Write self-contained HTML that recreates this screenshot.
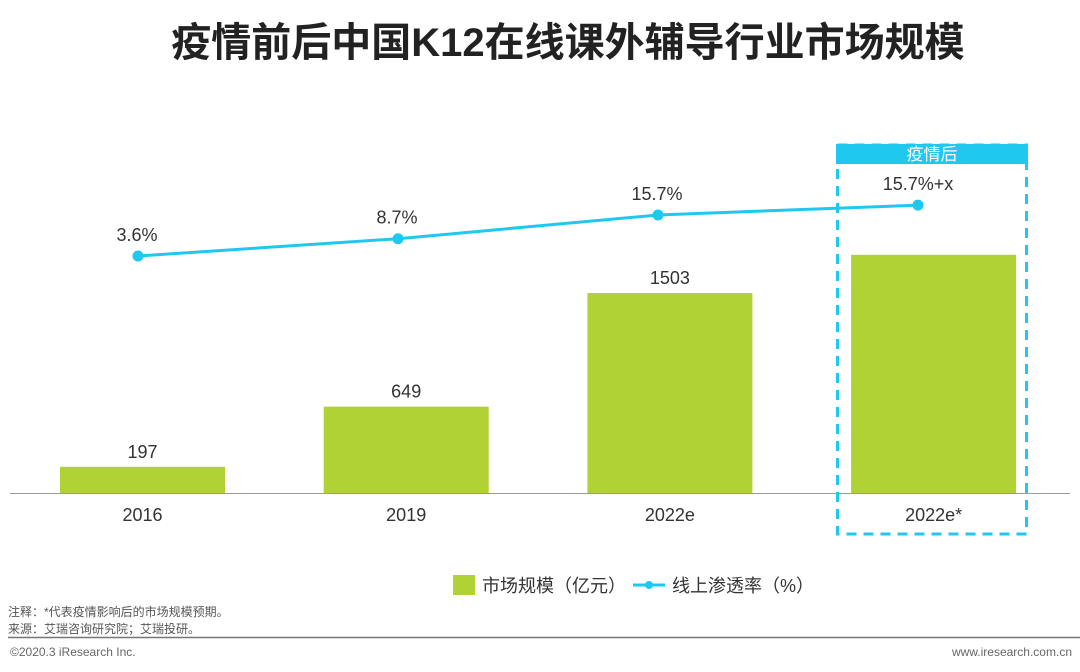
<!DOCTYPE html>
<html><head><meta charset="utf-8">
<style>
body{margin:0;background:#fff;width:1080px;height:672px;overflow:hidden;font-family:"Liberation Sans","Noto Sans CJK SC",sans-serif;}
svg{display:block}
</style></head>
<body>
<svg id="chart" width="1080" height="672" font-family="Liberation Sans, Noto Sans CJK SC, sans-serif">
<text x="568" y="56" text-anchor="middle" font-size="40" font-weight="bold" fill="#222">疫情前后中国K12在线课外辅导行业市场规模</text>
<rect x="836" y="144" width="192" height="20" fill="#1fc8ef"/>
<text x="932" y="160" text-anchor="middle" font-size="17" fill="#fff">疫情后</text>
<rect x="837.5" y="145" width="189" height="389" fill="none" stroke="#1fc8ef" stroke-width="3" stroke-dasharray="10,7"/>
<line x1="10" y1="493.5" x2="1070" y2="493.5" stroke="#999" stroke-width="1"/>
<g id="bars"></g>
<g id="line"></g>
<g id="labels"></g>
<rect x="453" y="575" width="22" height="20" fill="#b0d235"/>
<text x="482" y="592" font-size="18" fill="#333">市场规模（亿元）</text>
<line x1="633" y1="585" x2="665" y2="585" stroke="#1fc8ef" stroke-width="3"/>
<circle cx="649" cy="585" r="4" fill="#1fc8ef"/>
<text x="672" y="592" font-size="18" fill="#333">线上渗透率（%）</text>
<text x="8" y="616" font-size="12" fill="#555">注释：*代表疫情影响后的市场规模预期。</text>
<text x="8" y="633" font-size="12" fill="#555">来源：艾瑞咨询研究院；艾瑞投研。</text>
<line x1="8" y1="637.5" x2="1080" y2="637.5" stroke="#777" stroke-width="1.5"/>
<text x="10" y="656" font-size="12" fill="#666">©2020.3 iResearch Inc.</text>
<text x="1072" y="656" text-anchor="end" font-size="12" fill="#666">www.iresearch.com.cn</text>
</svg>
<script>
const categories=["2016","2019","2022e","2022e*"];
const marketSize=[197,649,1503,1790];
const sizeLabels=["197","649","1503",""];
const penetration=[3.6,8.7,15.7,18.6];
const penLabels=["3.6%","8.7%","15.7%","15.7%+x"];

const NS="http://www.w3.org/2000/svg";
const baseY=493, pxPerUnit=200/1503;
function xBar(i){return 60+i*263.7;}
function yBar(v){return baseY-v*pxPerUnit;}
function xPt(i){return 138+i*260;}
function yPt(v){return 256-(v-3.6)*3.39;}
function mk(tag,attrs,parent){const e=document.createElementNS(NS,tag);for(const k in attrs)e.setAttribute(k,attrs[k]);parent.appendChild(e);return e;}
const gb=document.getElementById('bars'),gl=document.getElementById('line'),gt=document.getElementById('labels');
categories.forEach((c,i)=>{
  const y=yBar(marketSize[i]);
  const r=mk('rect',{x:xBar(i),y:y,width:165,height:baseY-y,fill:'#b0d235'},gb);
  
  
  if(sizeLabels[i]){
    const t=mk('text',{x:xBar(i)+82.5,y:y-9,'text-anchor':'middle','font-size':18,fill:'#333'},gt);
    t.textContent=sizeLabels[i];
    
    
  }
  const xl=mk('text',{x:xBar(i)+82.5,y:521,'text-anchor':'middle','font-size':18,fill:'#333'},gt);
  xl.textContent=c;
  
  
});
const pts=penetration.map((v,i)=>xPt(i)+','+yPt(v)).join(' ');
const pl=mk('polyline',{points:pts,fill:'none',stroke:'#1fc8ef','stroke-width':3},gl);


penetration.forEach((v,i)=>{
  const c=mk('circle',{cx:xPt(i),cy:yPt(v),r:5.5,fill:'#1fc8ef'},gl);
  
  
  const t=mk('text',{x:xPt(i)+(i==3?0:-1),y:yPt(v)-15,'text-anchor':'middle','font-size':18,fill:'#333'},gt);
  t.textContent=penLabels[i];
  
  
});
</script>
</body></html>
